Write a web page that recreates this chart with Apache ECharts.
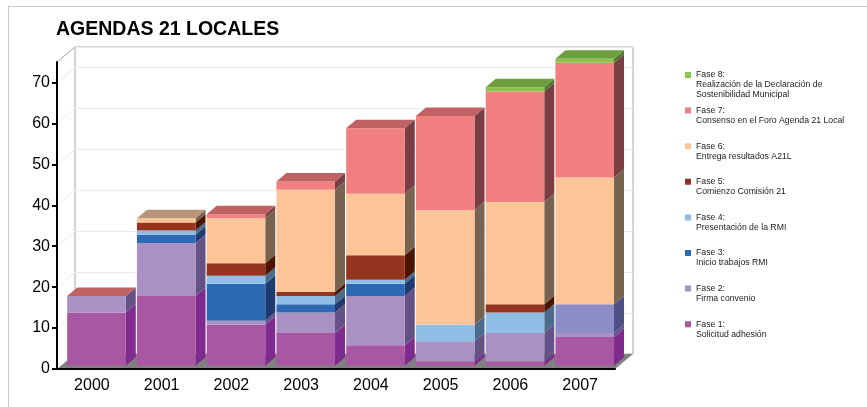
<!DOCTYPE html>
<html>
<head>
<meta charset="utf-8">
<title>Agendas 21 Locales</title>
<script src="https://cdn.jsdelivr.net/npm/echarts@6/dist/echarts.min.js"></script>
<style>
  html, body { margin: 0; padding: 0; background: #fff; }
  #frame { position: absolute; left: 8px; top: 6px; width: 867px; height: 420px;
           border-left: 1px solid #c8c8c8; border-top: 1px solid #c8c8c8; pointer-events: none; }
  #chart { width: 867px; height: 407px; }
</style>
</head>
<body>
<div id="chart"></div>
<div id="frame"></div>
<script>
// ---- DATA ----
const years = ['2000', '2001', '2002', '2003', '2004', '2005', '2006', '2007'];
const yTicks = [0, 10, 20, 30, 40, 50, 60, 70];

const fase1 = [13, 17, 10, 8, 5, 1, 1, 7];
const fase2 = [4, 13, 1, 5, 12, 5, 7, 1];
const fase3 = [0, 2, 9, 2, 3, 0, 0, 7];
const fase4 = [0, 1, 2, 2, 1, 4, 5, 0];
const fase5 = [0, 2, 3, 1, 6, 0, 2, 0];
const fase6 = [0, 1, 11, 25, 15, 28, 25, 31];
const fase7 = [0, 0, 1, 2, 16, 23, 27, 28];
const fase8 = [0, 0, 0, 0, 0, 0, 1, 1];

const faseNames = [
  'Fase 1:\nSolicitud adhesión',
  'Fase 2:\nFirma convenio',
  'Fase 3:\nInicio trabajos RMI',
  'Fase 4:\nPresentación de la RMI',
  'Fase 5:\nComienzo Comisión 21',
  'Fase 6:\nEntrega resultados A21L',
  'Fase 7:\nConsenso en el Foro Agenda 21 Local',
  'Fase 8:\nRealización de la Declaración de\nSostenibilidad Municipal'
];

// ---- COLOURS (front / side / top faces) ----
const frontColors = ['#AA57A3', '#A991C3', '#2E6AB3', '#8EBEE6', '#953520', '#FBC597', '#F17F80', '#8CC34B'];
const sideColors  = ['#7F2A8E', '#645287', '#1E3A70', '#4B6B8A', '#4A1400', '#776350', '#7A3E42', '#4C7A2E'];
const topColors   = ['#8C4A98', '#8A78A8', '#28528E', '#7898B8', '#6A2410', '#B9967A', '#C06263', '#6E9E40'];
// 2007 block of fase 3 drawn in another shade in the original
const override = { fase: 2, year: 7, front: '#8C8CC6', side: '#4F4F88', top: '#6E6EA6' };
// cap colour of the 2000 column in the original
const capOverride = { year: 0, top: '#C06263' };

const OFF = [4.6, -3.3];    // bar front relative to front axis
const DEPTH = [10, -8.5];   // bar depth
const WALL = [18, -15];     // back wall relative to front axis

const fases = [fase1, fase2, fase3, fase4, fase5, fase6, fase7, fase8];

// top-most non-empty fase per year
const topFase = years.map((y, i) => {
  let t = -1;
  fases.forEach((f, k) => { if (f[i] > 0) t = k; });
  return t;
});

function stackData(k) {
  return years.map((y, i) => {
    let base = 0;
    for (let j = 0; j < k; j++) base += fases[j][i];
    return [i, base, base + fases[k][i], topFase[i] === k ? 1 : 0];
  });
}

// ---- RENDERERS ----
function makeBarRender(k) {
  return function (params, api) {
    const i = api.value(0), lo = api.value(1), hi = api.value(2), isTop = api.value(3);
    if (hi <= lo) return null;
    const ov = (k === override.fase && i === override.year);
    const fc = ov ? override.front : frontColors[k];
    const sc = ov ? override.side : sideColors[k];
    let tc = ov ? override.top : topColors[k];
    if (i === capOverride.year) tc = capOverride.top;
    const bw = api.size([1, 0])[0] * 0.84;
    const p0 = api.coord([i, lo]), p1 = api.coord([i, hi]);
    const x0 = p0[0] + OFF[0] - bw / 2, x1 = x0 + bw;
    const yb = p0[1] + OFF[1], yt = p1[1] + OFF[1];
    const dx = DEPTH[0], dy = DEPTH[1];
    const children = [
      { type: 'polygon', shape: { points: [[x1, yt], [x1 + dx, yt + dy], [x1 + dx, yb + dy], [x1, yb]] },
        style: { fill: sc } },
      { type: 'rect', shape: { x: x0, y: yt, width: bw, height: yb - yt }, style: { fill: fc } }
    ];
    if (isTop) {
      children.push({ type: 'polygon',
        shape: { points: [[x0, yt], [x1, yt], [x1 + dx, yt + dy], [x0 + dx, yt + dy]] },
        style: { fill: tc } });
    }
    return { type: 'group', children: children };
  };
}

function renderFrame(params, api) {
  const v = api.value(1);
  const half = api.size([1, 0])[0] / 2;
  const p = api.coord([0, v]);
  const xl = p[0] - half;
  const children = [];
  if (v === 0) {
    const pr = api.coord([years.length - 1, 0]);
    const xr = pr[0] + half;
    children.push({ type: 'polygon',
      shape: { points: [[xl, p[1]], [xr, p[1]], [xr + WALL[0], p[1] + WALL[1]], [xl + WALL[0], p[1] + WALL[1]]] },
      style: { fill: '#808080' } });
  } else {
    children.push({ type: 'line',
      shape: { x1: xl, y1: p[1], x2: xl + WALL[0], y2: p[1] + WALL[1] },
      style: { stroke: v === 75 ? '#A6A6A6' : '#EBEBEB', lineWidth: 1 } });
  }
  return { type: 'group', children: children };
}

// ---- LEGENDS (one per entry, Fase 8 on top) ----
const legends = [];
for (let k = 7; k >= 0; k--) {
  const slot = 7 - k;
  const h = k === 7 ? 30 : 20;
  legends.push({
    data: [faseNames[k]],
    orient: 'vertical',
    left: 685,
    top: 70 + slot * 35.6,
    padding: 0,
    selectedMode: false,
    itemWidth: 6,
    itemHeight: h,
    icon: 'path://M0,2h6v6h-6z M0,0h0.01v0.01h-0.01z M0,' + (h - 0.01) + 'h0.01v0.01h-0.01z',
    textStyle: { fontFamily: 'Liberation Sans', fontSize: 8.7, lineHeight: 10, color: '#222' }
  });
}

// ---- CHART ----
const chart = echarts.init(document.getElementById('chart'), null, { renderer: 'canvas' });

const series = [{
  type: 'custom',
  name: 'frame',
  xAxisIndex: 0, yAxisIndex: 0,
  z: 1,
  silent: true,
  renderItem: renderFrame,
  data: yTicks.concat([75]).map(v => [0, v]),
  encode: { x: 0, y: 1 }
}];
fases.forEach((f, k) => {
  series.push({
    type: 'custom',
    name: faseNames[k],
    xAxisIndex: 0, yAxisIndex: 0,
    z: 2,
    itemStyle: { color: frontColors[k] },
    renderItem: makeBarRender(k),
    data: stackData(k),
    encode: { x: 0, y: [1, 2] }
  });
});

chart.setOption({
  animation: false,
  backgroundColor: '#fff',
  title: {
    text: 'AGENDAS 21 LOCALES',
    left: 51, top: 15,
    textStyle: { fontFamily: 'Liberation Sans', fontSize: 19.5, fontWeight: 'bold', color: '#000' }
  },
  legend: legends,
  grid: [
    { left: 57, top: 62, width: 558, height: 307 },
    { left: 75, top: 47, width: 558, height: 307, show: true, borderColor: '#A6A6A6', borderWidth: 1 }
  ],
  xAxis: [
    {
      gridIndex: 0, type: 'category', data: years, z: 5,
      axisLine: { lineStyle: { color: '#000', width: 2 } },
      axisTick: { length: 5, lineStyle: { color: '#000', width: 2 } },
      axisLabel: { fontFamily: 'Liberation Sans', fontSize: 16, color: '#000', margin: 9 }
    },
    {
      gridIndex: 1, type: 'category', data: years,
      axisLine: { show: false }, axisTick: { show: false }, axisLabel: { show: false }
    }
  ],
  yAxis: [
    {
      gridIndex: 0, type: 'value', min: 0, max: 75, interval: 10, z: 5,
      axisLine: { show: true, lineStyle: { color: '#000', width: 2 } },
      axisTick: { show: true, length: 5, customValues: yTicks, lineStyle: { color: '#000', width: 2 } },
      axisLabel: { fontFamily: 'Liberation Sans', fontSize: 16, color: '#000', margin: 7, customValues: yTicks },
      splitLine: { show: false }
    },
    {
      gridIndex: 1, type: 'value', min: 0, max: 75, interval: 10,
      axisLine: { show: false }, axisTick: { show: false }, axisLabel: { show: false },
      splitLine: { lineStyle: { color: '#EBEBEB', width: 1 } }
    }
  ],
  series: series
});
</script>
</body>
</html>
